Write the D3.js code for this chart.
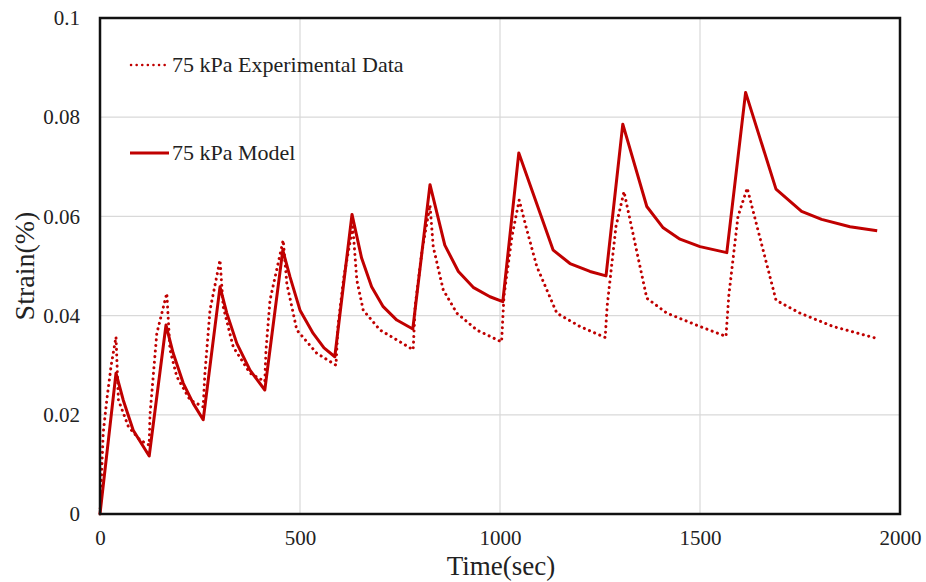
<!DOCTYPE html>
<html><head><meta charset="utf-8">
<script src="https://cdn.jsdelivr.net/npm/d3@7"></script>
<style>body{margin:0;background:#fff}svg{display:block}text{font-family:"Liberation Serif",serif;fill:#222}</style>
</head><body><svg id="c" width="926" height="582"></svg>
<script>
const xTicks=[0,500,1000,1500,2000];
const yTicks=[0,0.02,0.04,0.06,0.08,0.1];
const yTickLabels=["0","0.02","0.04","0.06","0.08","0.1"];
const seriesNames=["75 kPa Experimental Data","75 kPa Model"];
const modelT=[0,40,58,83,123,165,183,208,233,258,300,317,342,375,412,457,475,500,533,560,587,630,654,679,708,742,782,825,862,896,933,975,1007,1047,1133,1175,1225,1265,1307,1367,1408,1450,1500,1567,1614,1690,1754,1804,1875,1943];
const modelV=[0,0.0284,0.0230,0.0169,0.0117,0.0381,0.0324,0.0264,0.0223,0.0190,0.0458,0.0405,0.0344,0.0290,0.0250,0.0532,0.0478,0.0411,0.0364,0.0335,0.0317,0.0604,0.0516,0.0458,0.0418,0.0391,0.0373,0.0664,0.0542,0.0489,0.0457,0.0438,0.0428,0.0728,0.0532,0.0505,0.0489,0.0480,0.0786,0.0620,0.0577,0.0554,0.0539,0.0527,0.0850,0.0655,0.0610,0.0594,0.0579,0.0571];
const expT=[0,8,17,28,40,46,71,100,123,125,142,167,175,192,225,258,262,275,300,308,333,375,412,415,425,458,467,492,542,590,595,610,632,642,658,700,742,783,788,805,825,833,858,892,942,1004,1010,1030,1048,1067,1092,1142,1200,1263,1268,1290,1310,1367,1417,1500,1565,1572,1595,1618,1690,1750,1833,1942];
const expV=[0,0.0163,0.0230,0.0300,0.0357,0.0230,0.0176,0.0149,0.0139,0.0200,0.0364,0.0445,0.0331,0.0277,0.0230,0.0216,0.0280,0.0411,0.0512,0.0418,0.0337,0.0284,0.0267,0.0330,0.0431,0.0552,0.0465,0.0371,0.0324,0.0300,0.0380,0.0480,0.0579,0.0472,0.0411,0.0371,0.0351,0.0331,0.0420,0.0530,0.0623,0.0539,0.0452,0.0405,0.0371,0.0347,0.0440,0.0560,0.0633,0.0573,0.0499,0.0405,0.0378,0.0356,0.0420,0.0580,0.0650,0.0435,0.0405,0.0378,0.0358,0.0440,0.0600,0.0657,0.0431,0.0405,0.0378,0.0354];

const svg=d3.select("#c");
const L=100,R=900,T=18,B=514;
const x=d3.scaleLinear().domain([0,2000]).range([L,R]);
const y=d3.scaleLinear().domain([0,0.1]).range([B,T]);
const red="#c00000";
const FONT='"Liberation Serif",serif';

// gridlines
svg.append("g").selectAll("line").data(yTicks.slice(1)).join("line")
  .attr("x1",L).attr("x2",R).attr("y1",d=>y(d)).attr("y2",d=>y(d))
  .attr("stroke","#d9d9d9").attr("stroke-width",1.2);
svg.append("g").selectAll("line").data(xTicks.slice(1)).join("line")
  .attr("y1",T).attr("y2",B).attr("x1",d=>x(d)).attr("x2",d=>x(d))
  .attr("stroke","#d9d9d9").attr("stroke-width",1.2);

// axes (labels only)
const xa=svg.append("g").attr("transform",`translate(0,${B})`)
  .call(d3.axisBottom(x).tickValues(xTicks).tickSize(0).tickPadding(16).tickFormat(d3.format("d")));
xa.attr("font-family",FONT);
xa.select(".domain").remove();
xa.selectAll("text").attr("font-size",21).attr("fill","#222");
const ya=svg.append("g").attr("transform",`translate(${L},0)`)
  .call(d3.axisLeft(y).tickValues(yTicks).tickSize(0).tickPadding(20).tickFormat((d,i)=>yTickLabels[i]));
ya.attr("font-family",FONT);
ya.select(".domain").remove();
ya.selectAll("text").attr("font-size",21).attr("fill","#222");

// data lines
const line=d3.line().x(d=>x(d[0])).y(d=>y(d[1]));
const expData=expT.map((t,i)=>[t,expV[i]]);
const modelData=modelT.map((t,i)=>[t,modelV[i]]);
svg.append("path").datum(expData).attr("d",line).attr("fill","none")
  .attr("stroke",red).attr("stroke-width",3).attr("stroke-linecap","round")
  .attr("stroke-dasharray","0.1 5.5");
svg.append("path").datum(modelData).attr("d",line).attr("fill","none")
  .attr("stroke",red).attr("stroke-width",3).attr("stroke-linejoin","round");

// border
svg.append("rect").attr("x",L).attr("y",T).attr("width",R-L).attr("height",B-T)
  .attr("fill","none").attr("stroke","#111").attr("stroke-width",2.5);

// legend
const lg=svg.append("g");
lg.append("line").attr("x1",131).attr("x2",166).attr("y1",65).attr("y2",65)
  .attr("stroke",red).attr("stroke-width",2.5).attr("stroke-linecap","round").attr("stroke-dasharray","0.1 5.5");
lg.append("text").attr("x",172).attr("y",72).attr("font-size",22).text(seriesNames[0]);
lg.append("line").attr("x1",130).attr("x2",169).attr("y1",153).attr("y2",153)
  .attr("stroke",red).attr("stroke-width",3);
lg.append("text").attr("x",172).attr("y",160).attr("font-size",22).text(seriesNames[1]);

// axis titles
svg.append("text").attr("x",501).attr("y",575).attr("text-anchor","middle").attr("font-size",27).text("Time(sec)");
svg.append("text").attr("transform","translate(34,266) rotate(-90)").attr("text-anchor","middle").attr("font-size",28).text("Strain(%)");
</script></body></html>
